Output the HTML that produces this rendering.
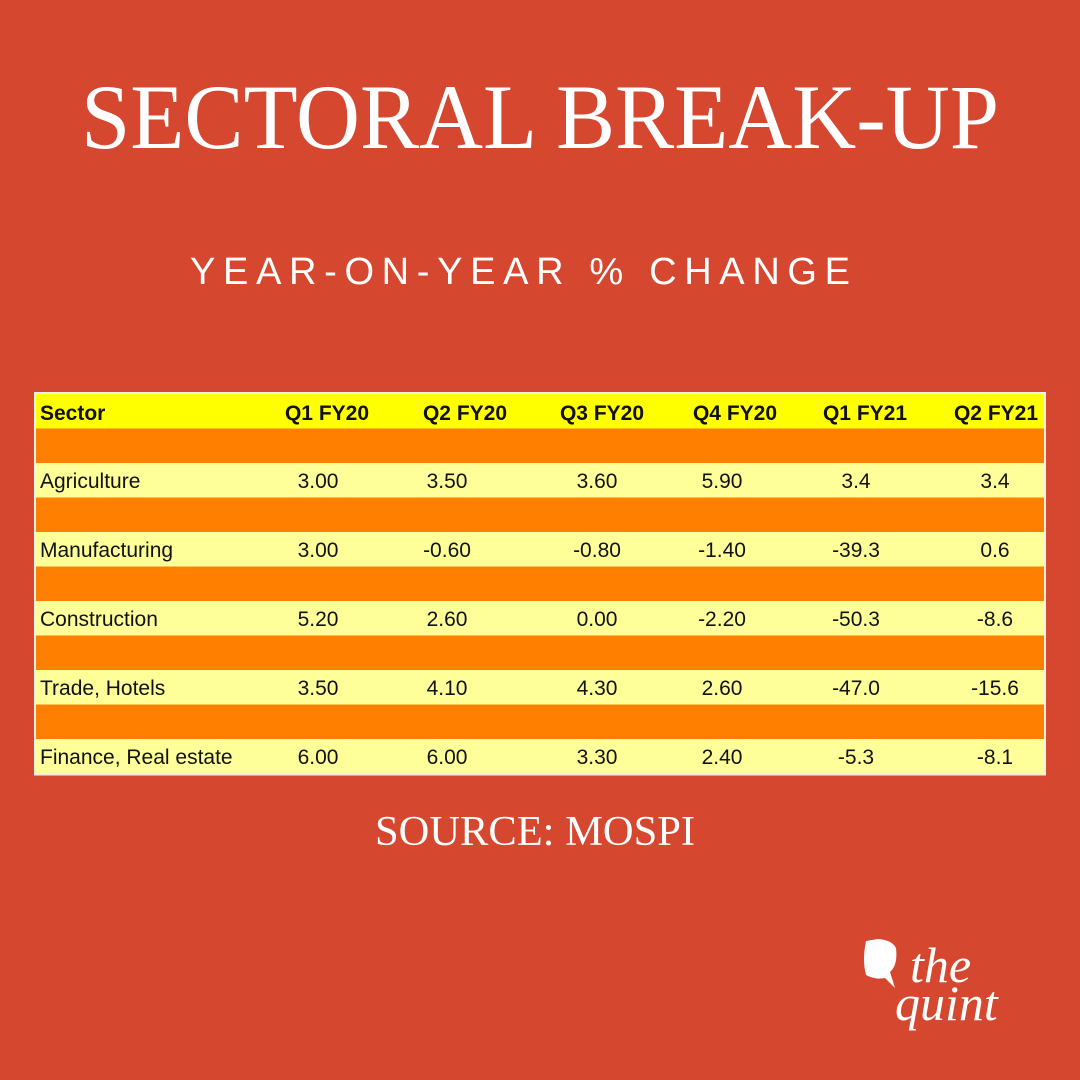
<!DOCTYPE html>
<html><head><meta charset="utf-8"><style>
body{margin:0;width:1080px;height:1080px;background:#D5472F;overflow:hidden}
svg{display:block}
</style></head><body>
<svg width="1080" height="1080" xmlns="http://www.w3.org/2000/svg">
<rect width="1080" height="1080" fill="#D5472F"/>
<text x="540" y="148" text-anchor="middle" font-family="Liberation Serif, serif" font-size="92" fill="#fff" textLength="918" lengthAdjust="spacingAndGlyphs">SECTORAL BREAK-UP</text>
<text x="520" y="284" text-anchor="middle" font-family="Liberation Sans, sans-serif" font-size="38" fill="#fff" textLength="660" lengthAdjust="spacing">YEAR-ON-YEAR % CHANGE</text>
<g id="table"></g>
<text x="535" y="845" text-anchor="middle" font-family="Liberation Serif, serif" font-size="42" fill="#fff" textLength="320" lengthAdjust="spacingAndGlyphs">SOURCE: MOSPI</text>
<g>
<path d="M866 941 Q862 960 866 975 Q875 980 885 978 L895 988 L890 972 Q898 965 896 948 Q892 940 878 939 Z" fill="#fff"/>
<text x="910" y="982" font-family="Liberation Serif, serif" font-style="italic" font-size="50" fill="#fff">the</text>
<text x="895" y="1020" font-family="Liberation Serif, serif" font-style="italic" font-size="50" fill="#fff">quint</text>
</g>
</svg>
<script>
const headers=["Sector","Q1 FY20","Q2 FY20","Q3 FY20","Q4 FY20","Q1 FY21","Q2 FY21"];
const sectors=["Agriculture","Manufacturing","Construction","Trade, Hotels","Finance, Real estate"];
const q1fy20=["3.00","3.00","5.20","3.50","6.00"];
const q2fy20=["3.50","-0.60","2.60","4.10","6.00"];
const q3fy20=["3.60","-0.80","0.00","4.30","3.30"];
const q4fy20=["5.90","-1.40","-2.20","2.60","2.40"];
const q1fy21=["3.4","-39.3","-50.3","-47.0","-5.3"];
const q2fy21=["3.4","0.6","-8.6","-15.6","-8.1"];
const cols=[q1fy20,q2fy20,q3fy20,q4fy20,q1fy21,q2fy21];
const hdrX=[327,465,602,735,865,996];
const valX=[318,447,597,722,856,995];
const NS="http://www.w3.org/2000/svg";
const g=document.getElementById('table');
const L=36,W=1008,T=394,RH=34.5;
function mk(t,a){const e=document.createElementNS(NS,t);for(const k in a)e.setAttribute(k,a[k]);return e;}
const border=mk('rect',{x:L-2,y:T-2,width:W+4,height:RH*11+4,fill:'#f4f0e0'});


g.appendChild(border);
for(let r=0;r<11;r++){
  const fill=r==0?'#FFFF00':(r%2==1?'#FF7F00':'#FFFF99');
  const rc=mk('rect',{x:L,y:T+r*RH,width:W,height:RH+0.5,fill});
  
  
  g.appendChild(rc);
}
headers.forEach((h,i)=>{
  const t=mk('text',{x:i==0?40:hdrX[i-1],y:T+26,'text-anchor':i==0?'start':'middle','font-family':'Liberation Sans, sans-serif','font-size':21,'font-weight':'bold',fill:'#111'});
  t.textContent=h;
  
  
  g.appendChild(t);
});
sectors.forEach((s,r)=>{
  const y=T+(2+r*2)*RH+25;
  const t=mk('text',{x:40,y,'font-family':'Liberation Sans, sans-serif','font-size':21,fill:'#111'});
  t.textContent=s;
  
  
  g.appendChild(t);
  cols.forEach((c,i)=>{
    const v=mk('text',{x:valX[i],y,'text-anchor':'middle','font-family':'Liberation Sans, sans-serif','font-size':21,fill:'#111'});
    v.textContent=c[r];
    
    
    g.appendChild(v);
  });
});
</script>
</body></html>
